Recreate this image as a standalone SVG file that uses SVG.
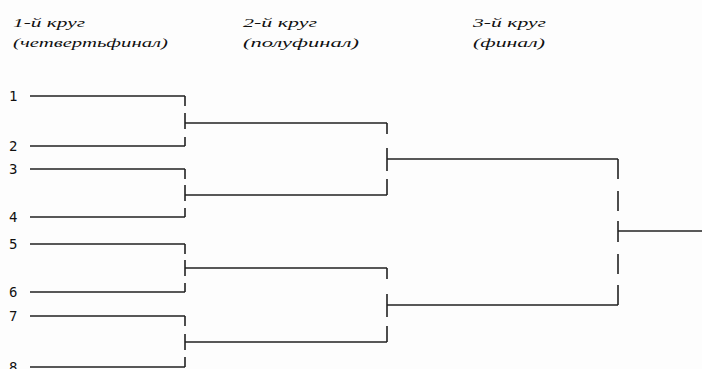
<svg xmlns="http://www.w3.org/2000/svg" width="702" height="369" viewBox="0 0 702 369">
  <style>
    .bg { fill: #fdfdfd; }
    .head { font-family: "Liberation Serif", "DejaVu Serif", serif; font-style: italic; font-size: 13px; fill: #111; }
    .num { font-family: "DejaVu Sans Mono", "Liberation Mono", monospace; font-size: 14px; fill: #111; }
    .ln { stroke: #222; stroke-width: 1.6; fill: none; stroke-linecap: butt; }
  </style>
  <rect class="bg" x="0" y="0" width="702" height="369"/>

  <!-- round headings -->
  <g id="round1">
    <text class="head" x="13" y="27" textLength="72" lengthAdjust="spacingAndGlyphs">1-й круг</text>
    <text class="head" x="13" y="47" textLength="155" lengthAdjust="spacingAndGlyphs">(четвертьфинал)</text>
  </g>
  <g id="round2">
    <text class="head" x="243" y="27" textLength="74" lengthAdjust="spacingAndGlyphs">2-й круг</text>
    <text class="head" x="243" y="47" textLength="116" lengthAdjust="spacingAndGlyphs">(полуфинал)</text>
  </g>
  <g id="round3">
    <text class="head" x="473" y="27" textLength="73" lengthAdjust="spacingAndGlyphs">3-й круг</text>
    <text class="head" x="473" y="47" textLength="72" lengthAdjust="spacingAndGlyphs">(финал)</text>
  </g>

  <!-- entrants -->
  <g id="p1"><text class="num" x="9" y="101">1</text></g>
  <g id="p2"><text class="num" x="9" y="151">2</text></g>
  <g id="p3"><text class="num" x="9" y="174">3</text></g>
  <g id="p4"><text class="num" x="9" y="222">4</text></g>
  <g id="p5"><text class="num" x="9" y="249">5</text></g>
  <g id="p6"><text class="num" x="9" y="297">6</text></g>
  <g id="p7"><text class="num" x="9" y="321">7</text></g>
  <g id="p8"><text class="num" x="9" y="372">8</text></g>

  <g id="connectors" class="ln">
    <!-- quarterfinal entry lines -->
    <path d="M30 96H185 M30 146H185 M30 169H185 M30 217H185 M30 244H185 M30 292H185 M30 316H185 M30 367H185"/>
    <!-- quarterfinal brackets (broken verticals) -->
    <path d="M185 96V106 M185 113V129 M185 137V146"/>
    <path d="M185 169V179 M185 185V201 M185 208V217"/>
    <path d="M185 244V254 M185 260V276 M185 283V292"/>
    <path d="M185 316V326 M185 334V350 M185 357V367"/>
    <!-- semifinal lines -->
    <path d="M185 123H387 M185 195H387 M185 268H387 M185 342H387"/>
    <!-- semifinal brackets -->
    <path d="M387 123V134 M387 148V171 M387 179V195"/>
    <path d="M387 268V279 M387 294V317 M387 326V342"/>
    <!-- final lines -->
    <path d="M387 159H618 M387 305H618"/>
    <!-- final bracket -->
    <path d="M618 159V179 M618 191V211 M618 221V242 M618 254V274 M618 285V305"/>
    <!-- winner line -->
    <path d="M618 231H702"/>
  </g>
</svg>
